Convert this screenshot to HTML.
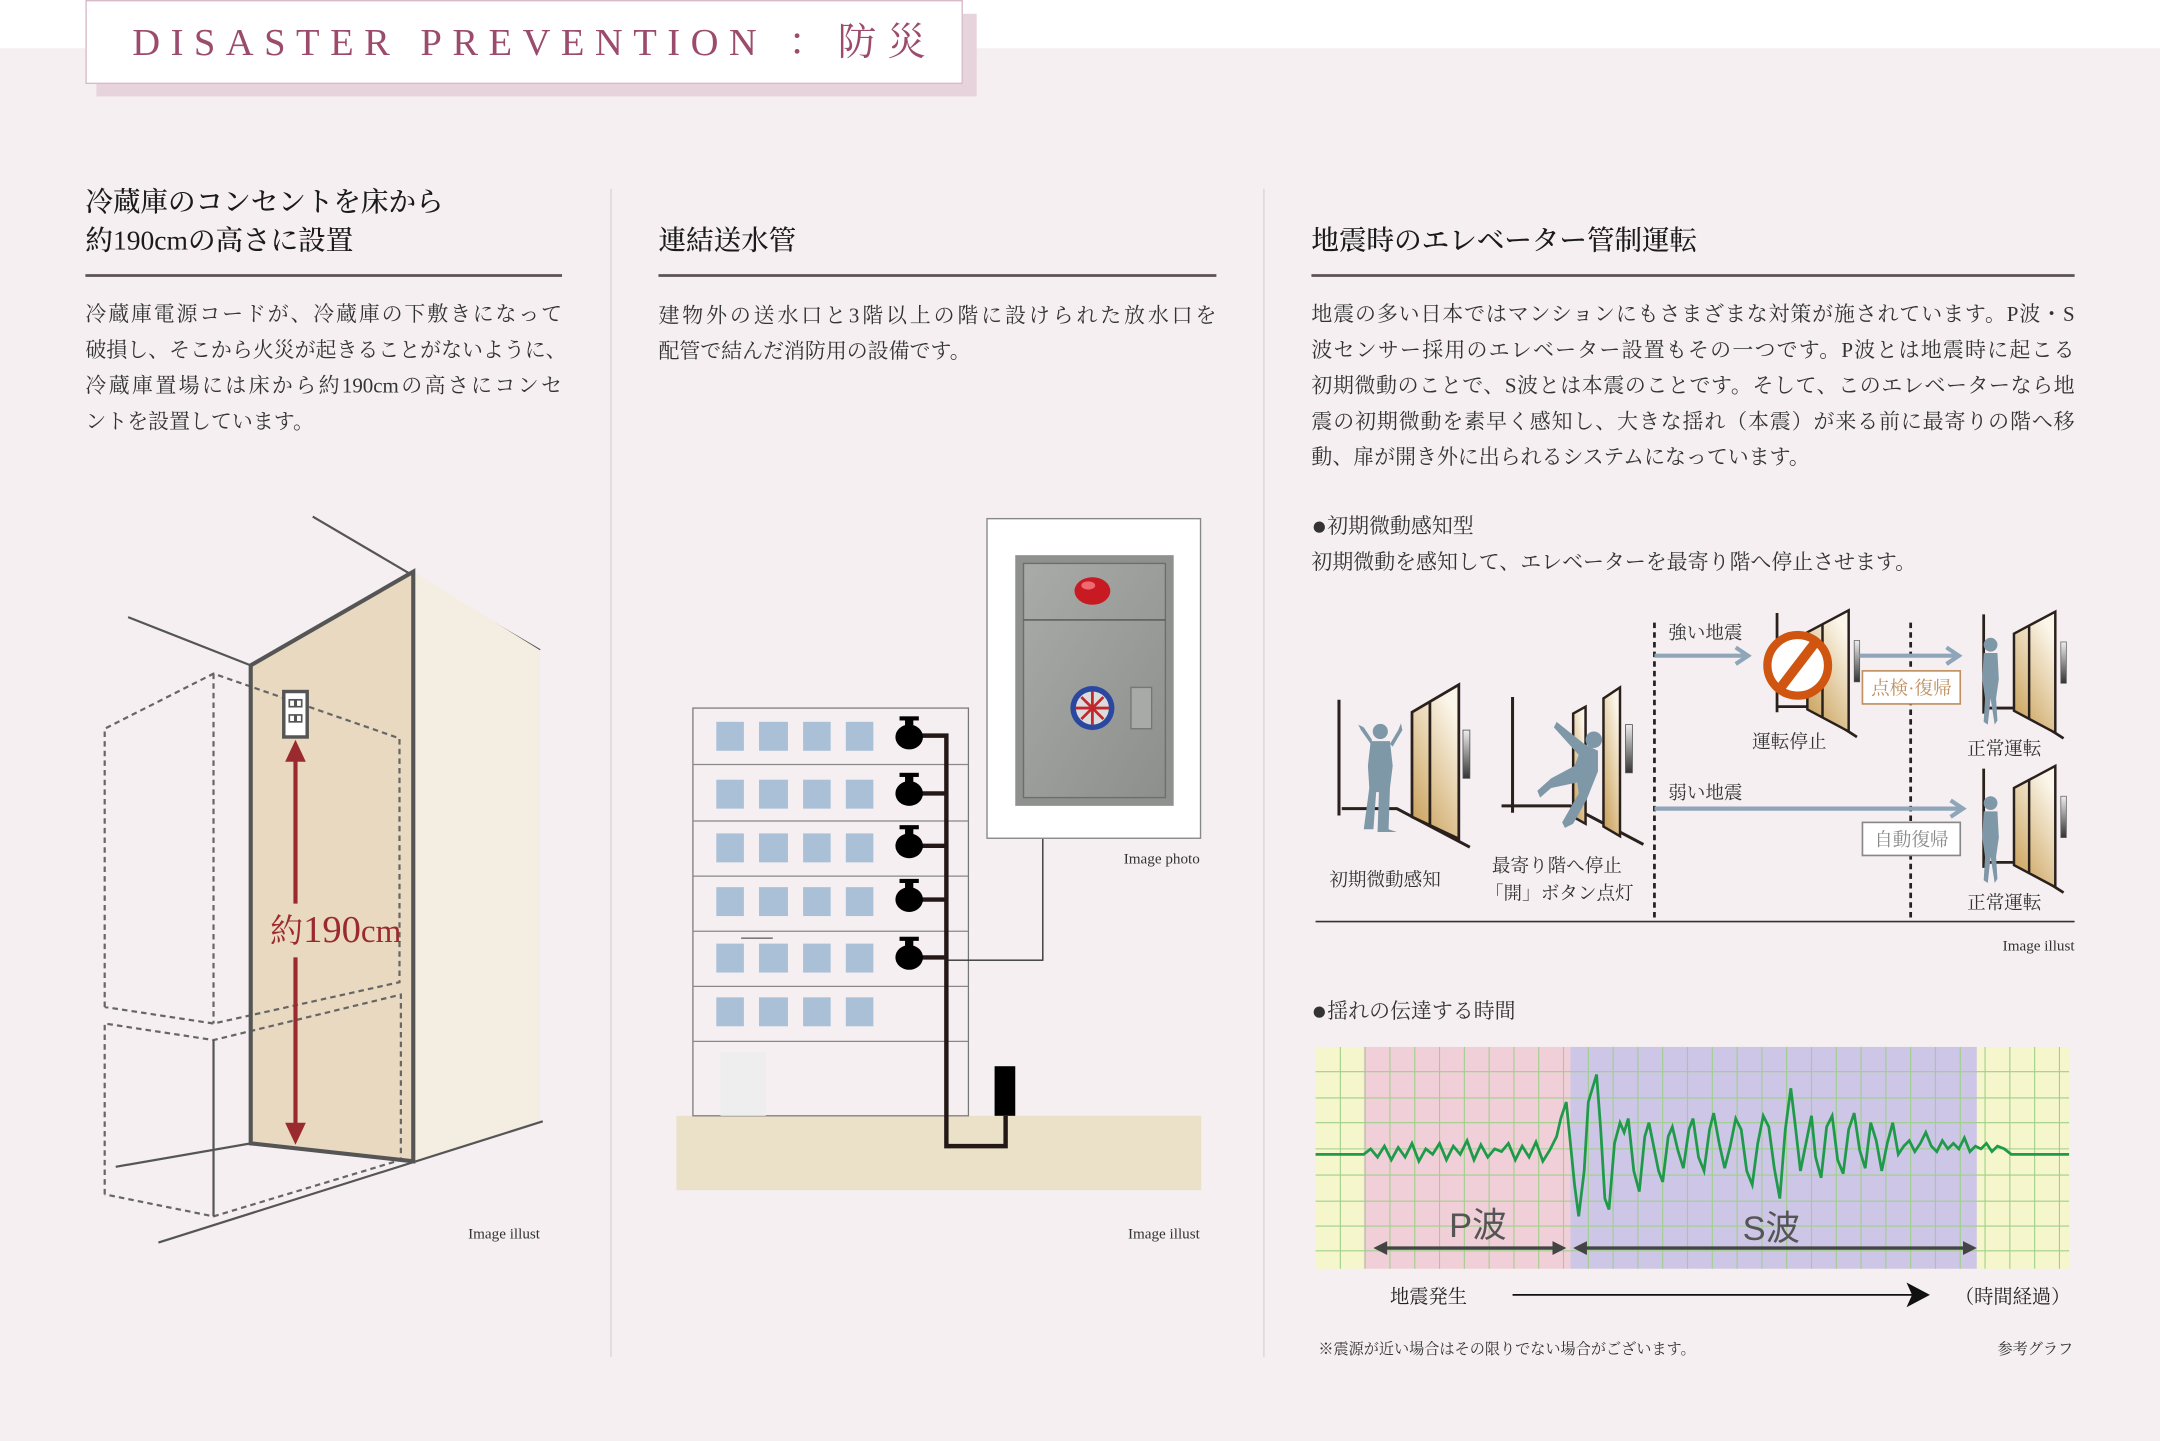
<!DOCTYPE html>
<html><head><meta charset="utf-8">
<style>
*{margin:0;padding:0;box-sizing:border-box}
html,body{width:2160px;height:1440px;overflow:hidden;background:#f5eff2}
#s{position:absolute;left:0;top:0;width:1568px;height:1046px;transform:scale(1.377551);transform-origin:0 0;background:#f5eff2;font-family:"Liberation Serif","Noto Serif CJK SC",serif;color:#2a2a2a}
.a{position:absolute;white-space:nowrap}
.h{font-size:20px;line-height:28px;color:#1a1a1a;font-weight:500}
.b{font-size:15.2px;line-height:26px;color:#333}
.j{text-align:justify;text-align-last:justify;display:block;white-space:nowrap}
.ul{position:absolute;height:1.6px;background:#5d5355}
.vd{position:absolute;width:1px;background:#ddd3d8;top:137px;height:848px}
.bl{font-size:19px;vertical-align:-1px}
</style></head><body><div id="s">
<div style="position:absolute;left:0;top:0;width:1568px;height:35px;background:#fff"></div>
<div style="position:absolute;left:70px;top:10px;width:639px;height:60px;background:#e6d3dc"></div>
<div style="position:absolute;left:62px;top:0;width:637px;height:61px;background:#fff;border:1.5px solid #d8b9c8"></div>
<div class="a" style="left:96px;top:9px;font-size:28px;letter-spacing:7.6px;color:#9b4b6c;line-height:40px">DISASTER PREVENTION<span style="font-family:'Noto Serif CJK SC',serif;letter-spacing:8px"> ：防災</span></div>

<div class="vd" style="left:443px"></div>
<div class="vd" style="left:917px"></div>

<!-- col1 -->
<div class="a h" style="left:62px;top:133px">冷蔵庫のコンセントを床から</div>
<div class="a h" style="left:62px;top:161px">約190cmの高さに設置</div>
<div class="ul" style="left:62px;top:199px;width:346px"></div>
<div class="a b" style="left:62px;top:216px;width:346px">
<span class="j">冷蔵庫電源コードが、冷蔵庫の下敷きになって</span>
<span class="j">破損し、そこから火災が起きることがないように、</span>
<span class="j">冷蔵庫置場には床から約190cmの高さにコンセ</span>
<span style="display:block">ントを設置しています。</span></div>

<!-- col2 -->
<div class="a h" style="left:478px;top:161px">連結送水管</div>
<div class="ul" style="left:478px;top:199px;width:405px"></div>
<div class="a b" style="left:478px;top:217px;width:405px">
<span class="j">建物外の送水口と3階以上の階に設けられた放水口を</span>
<span style="display:block">配管で結んだ消防用の設備です。</span></div>

<!-- col3 -->
<div class="a h" style="left:952px;top:161px">地震時のエレベーター管制運転</div>
<div class="ul" style="left:952px;top:199px;width:554px"></div>
<div class="a b" style="left:952px;top:216px;width:554px">
<span class="j">地震の多い日本ではマンションにもさまざまな対策が施されています。P波・S</span>
<span class="j">波センサー採用のエレベーター設置もその一つです。P波とは地震時に起こる</span>
<span class="j">初期微動のことで、S波とは本震のことです。そして、このエレベーターなら地</span>
<span class="j">震の初期微動を素早く感知し、大きな揺れ（本震）が来る前に最寄りの階へ移</span>
<span style="display:block">動、扉が開き外に出られるシステムになっています。</span></div>
<div class="a b" style="left:952px;top:370px"><span class="bl">●</span>初期微動感知型</div>
<div class="a b" style="left:952px;top:396px">初期微動を感知して、エレベーターを最寄り階へ停止させます。</div>
<div class="a b" style="left:952px;top:722px"><span class="bl">●</span>揺れの伝達する時間</div>

<svg style="position:absolute;left:0;top:0" width="1568" height="1046" viewBox="0 0 1568 1046">
<defs>
<linearGradient id="gd" x1="0" y1="1" x2="0.6" y2="0"><stop offset="0" stop-color="#c69a4e"/><stop offset="1" stop-color="#fbf6ea"/></linearGradient>
<linearGradient id="bt" x1="0" y1="0" x2="0" y2="1"><stop offset="0" stop-color="#eee"/><stop offset="1" stop-color="#333"/></linearGradient>
<linearGradient id="cab" x1="0" y1="0" x2="1" y2="1"><stop offset="0" stop-color="#a9aba8"/><stop offset="1" stop-color="#8d8f8c"/></linearGradient>
<g id="unit">
<line x1="0" y1="0" x2="0" y2="84" stroke="#2a201c" stroke-width="2.2"/>
<polyline points="2,79 42,79 95,107" fill="none" stroke="#2a201c" stroke-width="2.2"/>
<polygon points="53,9 87,-11 87,101 53,85" fill="url(#gd)" stroke="#2a201c" stroke-width="2"/>
<line x1="66" y1="1.5" x2="66" y2="91" stroke="#2a201c" stroke-width="2"/>
<rect x="90" y="22" width="5" height="35" fill="url(#bt)" stroke="#555" stroke-width="0.6"/>
</g>
<g id="nunit">
<line x1="0" y1="0" x2="0" y2="72" stroke="#2a201c" stroke-width="2"/>
<polyline points="0,68 24,68 58,90" fill="none" stroke="#2a201c" stroke-width="2"/>
<polygon points="22,14 52,-2 52,86 22,70" fill="url(#gd)" stroke="#2a201c" stroke-width="1.8"/>
<line x1="33" y1="8" x2="33" y2="76" stroke="#2a201c" stroke-width="1.8"/>
<rect x="56" y="20" width="4" height="30" fill="url(#bt)" stroke="#555" stroke-width="0.5"/>
</g>
<g id="man" fill="#7f98a8">
<circle cx="0" cy="5" r="5"/>
<path d="M-5,11 L5,11 L6,30 L4,44 L5,60 L3,63 L0,44 L-2,63 L-5,61 L-4,44 L-6,30 Z"/>
</g>
</defs>

<!-- LEFT illustration -->
<line x1="227" y1="375" x2="392" y2="472" stroke="#555" stroke-width="1.6"/>
<line x1="93" y1="448" x2="182" y2="483" stroke="#555" stroke-width="1.6"/>
<polygon points="300,415 392,472 392,814 300,843" fill="#f3ede2"/>
<polygon points="182,483 300,415 300,843 182,830" fill="#e8d9c0"/>
<line x1="84" y1="847" x2="182" y2="830" stroke="#555" stroke-width="1.6"/>
<line x1="115" y1="902" x2="394" y2="814" stroke="#555" stroke-width="1.6"/>
<g fill="none" stroke="#666" stroke-width="1.6" stroke-dasharray="4,3">
<polyline points="76,731 76,529 155,489 290,536 290,713 155,743 76,731"/>
<line x1="155" y1="489" x2="155" y2="743"/>
<polyline points="76,867 76,743 155,755 291,722 291,842 155,883 76,867"/>
</g>
<line x1="155" y1="755" x2="155" y2="883" stroke="#555" stroke-width="1.6"/>
<polygon points="182,483 300,415 300,843 182,830" fill="none" stroke="#555" stroke-width="3"/>
<rect x="206" y="502" width="17" height="33" fill="#fff" stroke="#555" stroke-width="2.5"/>
<rect x="210" y="508" width="4" height="5" fill="none" stroke="#555" stroke-width="1.2"/><rect x="215" y="508" width="4" height="5" fill="none" stroke="#555" stroke-width="1.2"/>
<rect x="210" y="519" width="4" height="5" fill="none" stroke="#555" stroke-width="1.2"/><rect x="215" y="519" width="4" height="5" fill="none" stroke="#555" stroke-width="1.2"/>
<g fill="#9a2a2e" stroke="#9a2a2e">
<polygon points="214.5,537 207,553 222,553" stroke="none"/>
<line x1="214.5" y1="550" x2="214.5" y2="656" stroke-width="3"/>
<line x1="214.5" y1="695" x2="214.5" y2="818" stroke-width="3"/>
<polygon points="214.5,831 207,815 222,815" stroke="none"/>
</g>
<text x="196" y="684" font-size="24" fill="#9a2a2e" font-family="Liberation Serif,Noto Serif CJK SC,serif">約<tspan font-size="28">190</tspan>cm</text>
<text x="392" y="899" font-size="11" text-anchor="end" fill="#333" font-family="Liberation Serif,serif">Image illust</text>

<!-- MIDDLE -->
<rect x="491" y="810" width="381" height="54" fill="#ebe1c9"/>
<rect x="503" y="514" width="200" height="296" fill="#f5eff2" stroke="#777" stroke-width="0.9"/>
<g stroke="#888" stroke-width="0.9"><line x1="503" y1="555" x2="703" y2="555"/><line x1="503" y1="596" x2="703" y2="596"/><line x1="503" y1="636" x2="703" y2="636"/><line x1="503" y1="676" x2="703" y2="676"/><line x1="503" y1="716" x2="703" y2="716"/><line x1="503" y1="756" x2="703" y2="756"/></g>
<g fill="#a9c0d7">
<rect x="520" y="524" width="20" height="21"/><rect x="551" y="524" width="21" height="21"/><rect x="583" y="524" width="20" height="21"/><rect x="614" y="524" width="20" height="21"/>
<rect x="520" y="566" width="20" height="21"/><rect x="551" y="566" width="21" height="21"/><rect x="583" y="566" width="20" height="21"/><rect x="614" y="566" width="20" height="21"/>
<rect x="520" y="605" width="20" height="21"/><rect x="551" y="605" width="21" height="21"/><rect x="583" y="605" width="20" height="21"/><rect x="614" y="605" width="20" height="21"/>
<rect x="520" y="644" width="20" height="21"/><rect x="551" y="644" width="21" height="21"/><rect x="583" y="644" width="20" height="21"/><rect x="614" y="644" width="20" height="21"/>
<rect x="520" y="685" width="20" height="21"/><rect x="551" y="685" width="21" height="21"/><rect x="583" y="685" width="20" height="21"/><rect x="614" y="685" width="20" height="21"/>
<rect x="520" y="724" width="20" height="21"/><rect x="551" y="724" width="21" height="21"/><rect x="583" y="724" width="20" height="21"/><rect x="614" y="724" width="20" height="21"/>
</g>
<line x1="538" y1="681" x2="561" y2="681" stroke="#333" stroke-width="0.7"/>
<rect x="523" y="764" width="33" height="46" fill="#eeeeee"/>
<polyline points="757,609 757,697 688,697" fill="none" stroke="#333" stroke-width="1"/>
<g stroke="#231815" stroke-width="3.2" fill="none">
<polyline points="668,534 687,534 687,832 730,832 730,810"/>
<line x1="668" y1="576" x2="687" y2="576"/><line x1="668" y1="614" x2="687" y2="614"/><line x1="668" y1="653" x2="687" y2="653"/><line x1="668" y1="695" x2="687" y2="695"/>
</g>
<g fill="#000">
<g transform="translate(660,535)"><ellipse cx="0" cy="0" rx="10" ry="9"/><rect x="-7" y="-15" width="14" height="3"/><rect x="-3" y="-13" width="6" height="6"/></g>
<g transform="translate(660,576)"><ellipse cx="0" cy="0" rx="10" ry="9"/><rect x="-7" y="-15" width="14" height="3"/><rect x="-3" y="-13" width="6" height="6"/></g>
<g transform="translate(660,614)"><ellipse cx="0" cy="0" rx="10" ry="9"/><rect x="-7" y="-15" width="14" height="3"/><rect x="-3" y="-13" width="6" height="6"/></g>
<g transform="translate(660,653)"><ellipse cx="0" cy="0" rx="10" ry="9"/><rect x="-7" y="-15" width="14" height="3"/><rect x="-3" y="-13" width="6" height="6"/></g>
<g transform="translate(660,695)"><ellipse cx="0" cy="0" rx="10" ry="9"/><rect x="-7" y="-15" width="14" height="3"/><rect x="-3" y="-13" width="6" height="6"/></g>
<rect x="722" y="774" width="15" height="36"/>
</g>
<rect x="716.5" y="376.5" width="155" height="232" fill="#fff" stroke="#888" stroke-width="1"/>
<rect x="737" y="403" width="115" height="182" fill="#8f918f"/>
<rect x="743" y="409" width="103" height="170" fill="url(#cab)" stroke="#6c6e6b" stroke-width="1"/>
<line x1="743" y1="450" x2="846" y2="450" stroke="#555" stroke-width="1"/>
<ellipse cx="793" cy="429" rx="13" ry="10" fill="#c81a22"/><ellipse cx="790" cy="425" rx="5" ry="3" fill="#ef6a70"/>
<circle cx="793" cy="514" r="16" fill="#2a48a0"/><circle cx="793" cy="514" r="12" fill="#dcdcdc"/>
<g stroke="#c0282e" stroke-width="2"><line x1="781" y1="514" x2="805" y2="514"/><line x1="793" y1="502" x2="793" y2="526"/><line x1="785" y1="506" x2="801" y2="522"/><line x1="785" y1="522" x2="801" y2="506"/></g>
<rect x="821" y="499" width="15" height="30" fill="#a7aaa6" stroke="#777" stroke-width="1"/>
<text x="871" y="627" font-size="11" text-anchor="end" fill="#333" font-family="Liberation Serif,serif">Image photo</text>
<text x="871" y="899" font-size="11" text-anchor="end" fill="#333" font-family="Liberation Serif,serif">Image illust</text>

<!-- ELEVATOR DIAGRAM -->
<use href="#unit" transform="translate(972,508)"/>
<g transform="translate(1098,506)">
<line x1="0" y1="0" x2="0" y2="84" stroke="#2a201c" stroke-width="2.2"/>
<polyline points="-8,79 42,79 95,107" fill="none" stroke="#2a201c" stroke-width="2.2"/>
<polygon points="44,12 53,7 53,92 44,87" fill="url(#gd)" stroke="#2a201c" stroke-width="1.8"/>
<polygon points="66,1 78,-7 78,101 66,94" fill="url(#gd)" stroke="#2a201c" stroke-width="1.8"/>
<rect x="82" y="20" width="5" height="35" fill="url(#bt)" stroke="#555" stroke-width="0.6"/>
</g>
<use href="#nunit" transform="translate(1290,445)"/>
<use href="#nunit" transform="translate(1440,446)"/>
<use href="#nunit" transform="translate(1440,558)"/>
<g fill="#7f98a8">
<circle cx="1002" cy="531" r="5.5"/>
<path d="M995,538 L1009,538 L1011,556 L1009,572 L1008,602 L1014,604 L1000,604 L1001,575 L999,575 L997,602 L990,602 L994,572 L993,556 Z"/>
<path d="M995,540 L988,530 L986,526 L990,528 L996,537 Z"/><path d="M1009,540 L1015,530 L1017,525 L1018,530 L1011,542 Z"/>
<circle cx="1157" cy="537" r="6"/>
<path d="M1130,524 L1150,540 L1160,545 L1160,560 L1152,580 L1142,598 L1136,601 L1134,597 L1146,576 L1145,568 L1126,572 L1118,579 L1116,574 L1126,565 L1143,556 L1146,548 L1128,528 Z"/>
</g>
<use href="#man" transform="translate(1445,463)"/>
<use href="#man" transform="translate(1445,578)"/>
<circle cx="1305" cy="483" r="22" fill="#fff" stroke="#cf5510" stroke-width="6"/>
<line x1="1292" y1="500" x2="1318" y2="466" stroke="#cf5510" stroke-width="7"/>
<g stroke="#222" stroke-width="2" stroke-dasharray="4,3"><line x1="1201" y1="452" x2="1201" y2="668"/><line x1="1387" y1="452" x2="1387" y2="668"/></g>
<g stroke="#8ea6b8" stroke-width="3" fill="none">
<line x1="1201" y1="476" x2="1268" y2="476"/><polyline points="1260,470 1269,476 1260,482"/>
<line x1="1350" y1="476" x2="1421" y2="476"/><polyline points="1413,470 1422,476 1413,482"/>
<line x1="1201" y1="587" x2="1424" y2="587"/><polyline points="1416,581 1425,587 1416,593"/>
</g>
<rect x="1352" y="487" width="71" height="24" fill="#fff" stroke="#c09060" stroke-width="1.2"/>
<text x="1387.5" y="504" font-size="13.5" text-anchor="middle" fill="#c09060">点検·復帰</text>
<rect x="1352" y="597" width="71" height="24" fill="#fff" stroke="#888" stroke-width="1.2"/>
<text x="1387.5" y="614" font-size="13.5" text-anchor="middle" fill="#888">自動復帰</text>
<g font-size="13.5" fill="#333">
<text x="1211" y="464">強い地震</text>
<text x="1211" y="580">弱い地震</text>
<text x="1272" y="543">運転停止</text>
<text x="1428" y="548">正常運転</text>
<text x="1428" y="660">正常運転</text>
<text x="965" y="643">初期微動感知</text>
<text x="1083" y="633">最寄り階へ停止</text>
<text x="1078" y="653">「開」ボタン点灯</text>
</g>
<line x1="955" y1="669" x2="1506" y2="669" stroke="#333" stroke-width="1.2"/>
<text x="1506" y="690" font-size="11" text-anchor="end" fill="#333" font-family="Liberation Serif,serif">Image illust</text>

<!-- GRAPH -->
<rect x="955" y="760" width="547" height="161" fill="#f6f6cc"/>
<rect x="990" y="760" width="150" height="161" fill="#f1cfd8"/>
<rect x="1140" y="760" width="295" height="161" fill="#cdc6e6"/>
<path fill="none" stroke="#9fd08a" stroke-width="0.8" d="M955,778H1502M955,797H1502M955,815H1502M955,834H1502M955,853H1502M955,872H1502M955,890H1502M955,908H1502M973,760V921M991,760V921M1009,760V921M1027,760V921M1045,760V921M1063,760V921M1081,760V921M1099,760V921M1117,760V921M1135,760V921M1153,760V921M1171,760V921M1189,760V921M1207,760V921M1225,760V921M1243,760V921M1261,760V921M1279,760V921M1297,760V921M1315,760V921M1333,760V921M1351,760V921M1369,760V921M1387,760V921M1405,760V921M1423,760V921M1441,760V921M1459,760V921M1477,760V921M1495,760V921"/>
<polyline fill="none" stroke="#1f9a4a" stroke-width="2" points="955,838 990,838 995,834 1000,840 1005,832 1010,842 1015,833 1020,840 1025,830 1030,843 1035,834 1040,838 1045,830 1050,842 1055,832 1060,838 1065,828 1070,842 1075,831 1080,840 1085,834 1090,836 1095,830 1100,842 1105,832 1110,840 1115,829 1120,843 1125,835 1130,825 1133,812 1137,800 1140,830 1143,860 1146,883 1150,850 1153,800 1156,790 1159,780 1162,820 1165,870 1168,878 1172,830 1176,815 1179,822 1182,812 1186,850 1190,865 1194,825 1197,815 1200,830 1204,850 1207,858 1211,825 1214,818 1218,835 1222,848 1226,820 1229,812 1233,840 1237,850 1241,820 1244,808 1248,830 1252,848 1256,832 1260,812 1264,820 1268,850 1272,860 1276,830 1280,810 1284,818 1288,848 1292,870 1296,820 1300,790 1303,815 1307,850 1311,830 1315,810 1318,840 1322,855 1326,818 1330,810 1334,842 1338,852 1342,820 1346,808 1350,835 1354,848 1358,815 1362,828 1366,850 1370,830 1374,815 1378,838 1382,832 1386,828 1390,836 1394,830 1398,822 1402,832 1406,836 1410,828 1414,834 1418,830 1422,834 1426,826 1430,836 1434,832 1438,834 1442,830 1446,836 1450,832 1455,834 1460,838 1502,838"/>
<g stroke="#444" stroke-width="2.5" fill="#444">
<line x1="1003" y1="906" x2="1131" y2="906"/><polygon points="997,906 1007,901 1007,911" stroke="none"/><polygon points="1137,906 1127,901 1127,911" stroke="none"/>
<line x1="1148" y1="906" x2="1429" y2="906"/><polygon points="1142,906 1152,901 1152,911" stroke="none"/><polygon points="1435,906 1425,901 1425,911" stroke="none"/>
</g>
<g font-family="Liberation Sans,Noto Sans CJK JP,sans-serif" font-size="25" fill="#555">
<text x="1052" y="898">P波</text><text x="1265" y="900">S波</text></g>
<text x="1009" y="946" font-size="14" fill="#222">地震発生</text>
<line x1="1098" y1="940" x2="1388" y2="940" stroke="#111" stroke-width="1.3"/>
<polygon points="1401,940 1384,931 1388,940 1384,949" fill="#111"/>
<text x="1503" y="946" font-size="14" fill="#222" text-anchor="end">（時間経過）</text>
<text x="957" y="983" font-size="11" fill="#333">※震源が近い場合はその限りでない場合がございます。</text>
<text x="1505" y="983" font-size="11" fill="#333" text-anchor="end">参考グラフ</text>
</svg>
</div></body></html>
